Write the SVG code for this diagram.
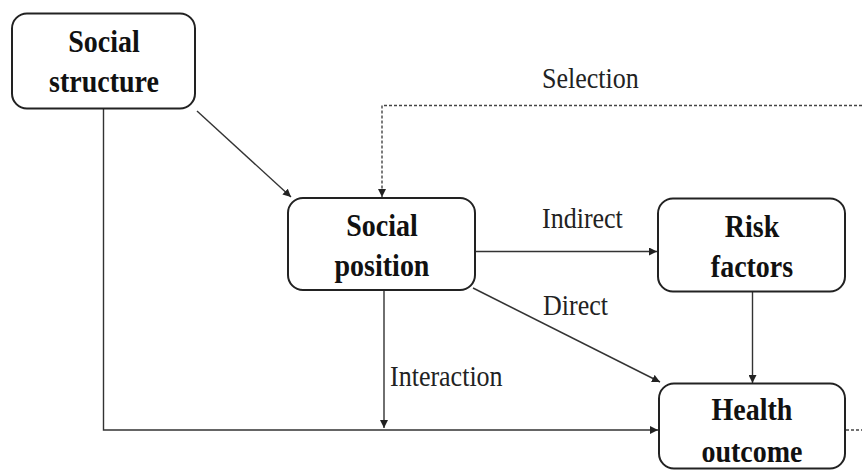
<svg xmlns="http://www.w3.org/2000/svg" width="862" height="471" viewBox="0 0 862 471">
<defs>
<marker id="arr" viewBox="0 0 10 10" refX="10" refY="5" markerWidth="8" markerHeight="8" markerUnits="userSpaceOnUse" orient="auto">
<path d="M0,0 L10,5 L0,10 z" fill="#222"/>
</marker>
<style>
.box{fill:#fff;stroke:#222;stroke-width:2}
.t{font-family:"Liberation Serif","Times New Roman",serif;font-weight:bold;font-size:28px;fill:#111;text-anchor:middle}
.l{font-family:"Liberation Serif","Times New Roman",serif;font-size:26px;fill:#222}
.c{fill:none;stroke:#333;stroke-width:1.4}
.d{fill:none;stroke:#444;stroke-width:1.4;stroke-dasharray:3 2}
</style>
</defs>
<rect width="862" height="471" fill="#fff"/>
<g id="connectors">
<path class="c" d="M197,111 L291,197" marker-end="url(#arr)"/>
<path class="d" d="M862,105.5 L382,105.5 L382,197" marker-end="url(#arr)"/>
<path class="c" d="M475,251.5 L657,251.5" marker-end="url(#arr)"/>
<path class="c" d="M473,288 L660,382" marker-end="url(#arr)"/>
<path class="c" d="M752.5,292 L752.5,383" marker-end="url(#arr)"/>
<path class="c" d="M384,291 L384,428" marker-end="url(#arr)"/>
<path class="c" d="M103.5,109 L103.5,430 L658,430" marker-end="url(#arr)"/>
<path class="d" d="M846,430 L862,430"/>
</g>
<g id="labels">
<text class="l" transform="translate(542 88) scale(1 1.1)">Selection</text>
<text class="l" transform="translate(542 228) scale(1 1.1)">Indirect</text>
<text class="l" transform="translate(543 315) scale(1 1.1)">Direct</text>
<text class="l" transform="translate(390 386) scale(1 1.1)">Interaction</text>
</g>
<g id="social-structure">
<rect class="box" x="12" y="13.5" width="183" height="95" rx="15"/>
<text class="t" transform="translate(104 52) scale(1 1.1)">Social</text>
<text class="t" transform="translate(104 92) scale(1 1.1)">structure</text>
</g>
<g id="social-position">
<rect class="box" x="288" y="198" width="187" height="92" rx="15"/>
<text class="t" transform="translate(382 236) scale(1 1.1)">Social</text>
<text class="t" transform="translate(382 276) scale(1 1.1)">position</text>
</g>
<g id="risk-factors">
<rect class="box" x="658" y="198.5" width="187" height="93" rx="15"/>
<text class="t" transform="translate(752 237) scale(1 1.1)">Risk</text>
<text class="t" transform="translate(752 277) scale(1 1.1)">factors</text>
</g>
<g id="health-outcome">
<rect class="box" x="659" y="383.5" width="186" height="85" rx="15"/>
<text class="t" transform="translate(752 420) scale(1 1.1)">Health</text>
<text class="t" transform="translate(752 462) scale(1 1.1)">outcome</text>
</g>
</svg>
